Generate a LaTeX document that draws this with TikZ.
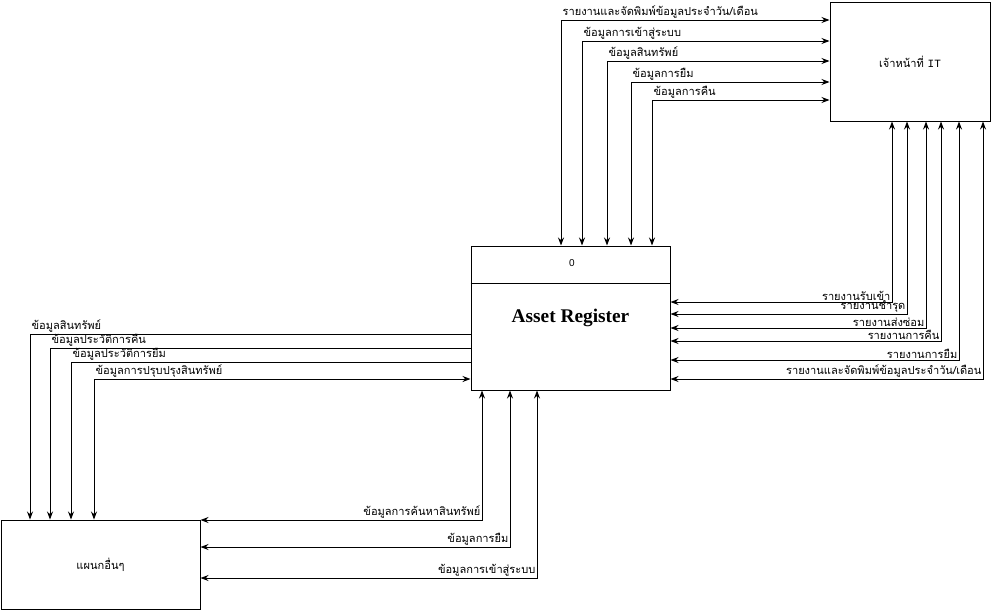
\documentclass[tikz,border=0pt]{standalone}
\usepackage{fontspec}
\usetikzlibrary{arrows.meta}

\newfontfamily\thaifont[Script=Thai]{Loma}
\newfontfamily\codefont{Liberation Mono}
\newfontfamily\idfont{Liberation Sans}
\newfontfamily\titlefont{Liberation Serif}

\tikzset{
  entity/.style={draw, line width=0.75pt, rectangle, inner sep=0pt,
    font=\thaifont\fontsize{8.3}{10}\selectfont},
  flow/.style={line width=0.7pt},
  flowlabel/.style={inner sep=1pt, font=\thaifont\fontsize{8.3}{10}\selectfont}
}

\begin{document}
\begin{tikzpicture}[x=0.75pt, y=-0.75pt, >={Stealth[length=6pt,width=4.5pt]}]

    % 1. Canvas (pixel units, y pointing down)
    \useasboundingbox (0,0) rectangle (994,611);

    % 2. The three boxes
    \node[entity, minimum width=120pt, minimum height=89.25pt] (it) at (910,61.5)
      {เจ้าหน้าที่ {\codefont IT}};
    \node[entity, minimum width=149.25pt, minimum height=108pt] (asset) at (570.5,318)
      {\titlefont\bfseries\fontsize{14.5}{17}\selectfont Asset Register};
    \node[entity, minimum width=149.25pt, minimum height=67.1pt] (other) at (100.5,564.75)
      {แผนกอื่นๆ};

    % process number band
    \coordinate (band) at (0,283);
    \draw[line width=0.75pt] (asset.west |- band) -- (asset.east |- band);
    \node[font=\idfont\fontsize{7.5}{9}\selectfont] (procid) at (572,263) {0};

    % 3. Asset Register <-> IT staff (top)
    \foreach \x/\y/\t in {561/20/{รายงานและจัดพิมพ์ข้อมูลประจำวัน/เดือน},
                          582/41/{ข้อมูลการเข้าสู่ระบบ},
                          607/61/{ข้อมูลสินทรัพย์},
                          631/82/{ข้อมูลการยืม},
                          652/100/{ข้อมูลการคืน}} {
      \coordinate (c) at (\x,\y);
      \draw[flow, <->] (asset.north -| c) |- (it.west |- c);
      \node[flowlabel, anchor=south west] at (c) {\t};
    }

    % 4. Reports from IT staff (right)
    \foreach \x/\y/\t in {892/302/{รายงานรับเข้า},
                          907/314/{รายงานชำรุด},
                          926/328/{รายงานส่งซ่อม},
                          941/341/{รายงานการคืน},
                          959/360/{รายงานการยืม},
                          983/379/{รายงานและจัดพิมพ์ข้อมูลประจำวัน/เดือน}} {
      \coordinate (c) at (\x,\y);
      \draw[flow, <->] (asset.east |- c) -| (it.south -| c);
      \node[flowlabel, anchor=south east] at (c) {\t};
    }

    % 5. Asset Register -> other departments (left)
    \foreach \x/\y/\t in {30/334/{ข้อมูลสินทรัพย์},
                          50/348/{ข้อมูลประวัติการคืน},
                          71/362/{ข้อมูลประวัติการยืม}} {
      \coordinate (c) at (\x,\y);
      \draw[flow, ->] (asset.west |- c) -| (other.north -| c);
      \node[flowlabel, anchor=south west] at (c) {\t};
    }
    \coordinate (upd) at (94,379);
    \draw[flow, <->] (asset.west |- upd) -| (other.north -| upd);
    \node[flowlabel, anchor=south west] at (upd) {ข้อมูลการปรุบปรุงสินทรัพย์};

    % 6. Other departments <-> Asset Register (bottom)
    \foreach \x/\y/\t in {482/520/{ข้อมูลการค้นหาสินทรัพย์},
                          510/547/{ข้อมูลการยืม},
                          537/578/{ข้อมูลการเข้าสู่ระบบ}} {
      \coordinate (c) at (\x,\y);
      \draw[flow, <->] (asset.south -| c) |- (other.east |- c);
      \node[flowlabel, anchor=south east] at (c) {\t};
    }

  \end{tikzpicture}
\end{document}
